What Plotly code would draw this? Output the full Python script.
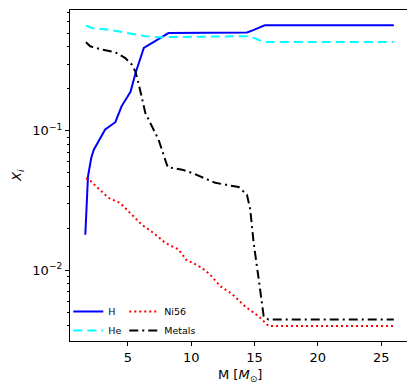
import plotly.graph_objects as go

# ---- data ----
h_mass = [1.63, 1.84, 2.1, 2.3, 3.2, 4.0, 4.5, 5.2, 5.6, 6.25, 8.2, 14.4, 14.9, 15.8, 26.0]
h_frac = [0.018, 0.047, 0.064, 0.073, 0.102, 0.115, 0.15, 0.19, 0.259, 0.391, 0.50, 0.505, 0.525, 0.568, 0.568]

he_mass = [1.68, 2.16, 3.74, 5.58, 6.37, 7.42, 8.2, 14.4, 15.0, 15.7, 26.0]
he_frac = [0.565, 0.543, 0.524, 0.492, 0.475, 0.466, 0.468, 0.475, 0.46, 0.431, 0.431]

ni_mass = [1.68, 2.03, 2.69, 3.48, 4.39, 5.18, 6.1, 7.03, 7.95, 9.0, 9.66, 10.06, 10.85,
           11.5, 12.29, 13.2, 14.27, 15.3, 16.1, 26.0]
ni_frac = [0.0458, 0.0438, 0.0383, 0.033, 0.0303, 0.0258, 0.0212, 0.0185, 0.0157, 0.0141,
           0.0117, 0.0114, 0.0104, 0.0093, 0.0077, 0.0068, 0.0055, 0.0047, 0.0040, 0.0040]

met_mass = [1.68, 2.02, 2.95, 4.0, 4.79, 5.32, 5.58, 5.89, 6.37, 7.42, 8.14, 9.27, 10.06,
            11.9, 13.74, 14.4, 14.66, 14.93, 15.37, 15.72, 16.1, 26.0]
met_frac = [0.43, 0.402, 0.38, 0.364, 0.331, 0.296, 0.266, 0.208, 0.134, 0.086, 0.0547,
            0.0526, 0.0498, 0.0423, 0.0395, 0.0348, 0.0272, 0.0157, 0.0081, 0.00469,
            0.00444, 0.00444]

x_ticks = [5, 10, 15, 20, 25]
y_major = [0.01, 0.1]
y_major_text = ["10<sup>\u22122</sup>", "10<sup>\u22121</sup>"]
y_minor = [m * 10 ** e for e in (-3, -2, -1) for m in range(2, 10)]

FONT = "DejaVu Sans"

fig = go.Figure()
fig.add_trace(go.Scatter(x=h_mass, y=h_frac, mode="lines", name="H",
                         line=dict(color="#0000ff", width=2), legend="legend"))
fig.add_trace(go.Scatter(x=he_mass, y=he_frac, mode="lines", name="He",
                         line=dict(color="#00ffff", width=2, dash="9px,5px"), legend="legend"))
fig.add_trace(go.Scatter(x=ni_mass, y=ni_frac, mode="lines", name="Ni56",
                         line=dict(color="#ff0000", width=2, dash="2px,3px"), legend="legend2"))
fig.add_trace(go.Scatter(x=met_mass, y=met_frac, mode="lines", name="Metals",
                         line=dict(color="#000000", width=2, dash="9px,4px,2px,4px"), legend="legend2"))

axis_common = dict(showline=True, linecolor="black", linewidth=1.2, mirror=True,
                   showgrid=False, zeroline=False, ticks="outside", tickcolor="black",
                   ticklen=4, tickwidth=1, automargin=False,
                   tickfont=dict(family=FONT, size=13, color="black"))

fig.update_layout(
    width=415, height=387,
    margin=dict(l=62, r=14, t=2, b=54),
    plot_bgcolor="white", paper_bgcolor="white",
    font=dict(family=FONT, color="black"),
    showlegend=True,
    xaxis=dict(range=[0.42, 27.2], tickvals=x_ticks, **axis_common),
    yaxis=dict(type="log", range=[-2.506, -0.136], tickvals=y_major, ticktext=y_major_text,
               minor=dict(tickvals=y_minor, ticklen=2, tickcolor="black", tickwidth=1, ticks="outside"),
               **axis_common),
    annotations=[
        dict(text="M [<i>M</i><sub>\u2299</sub>]", xref="paper", yref="paper",
             x=0.5, y=-0.103, xanchor="center", yanchor="middle", showarrow=False,
             font=dict(family=FONT, size=13, color="black")),
        dict(text="<i>X<sub>i</sub></i>", xref="paper", yref="paper", textangle=-90,
             x=-0.155, y=0.5, xanchor="center", yanchor="middle", showarrow=False,
             font=dict(family=FONT, size=13, color="black")),
    ],
    legend=dict(x=-0.005, y=-0.012, xanchor="left", yanchor="bottom", bgcolor="rgba(0,0,0,0)",
                font=dict(family=FONT, size=9.5), itemwidth=30, tracegroupgap=0),
    legend2=dict(x=0.16, y=-0.012, xanchor="left", yanchor="bottom", bgcolor="rgba(0,0,0,0)",
                 font=dict(family=FONT, size=9.5), itemwidth=30, tracegroupgap=0),
)

fig.write_html("out.html")
